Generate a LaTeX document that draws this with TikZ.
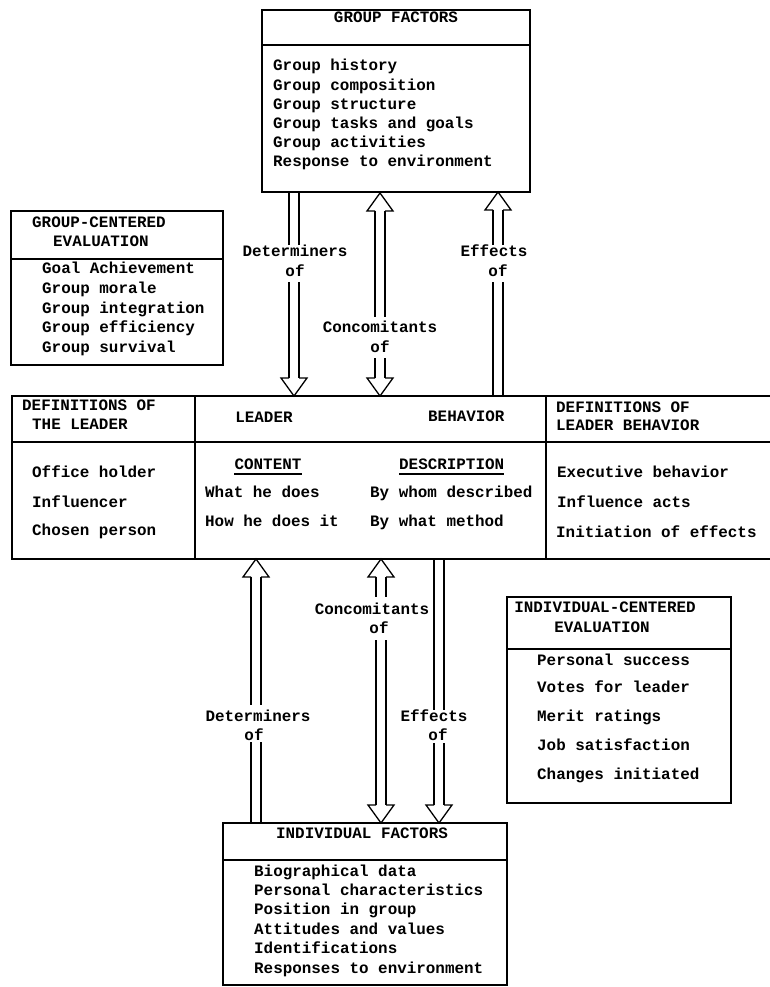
\documentclass[tikz,border=0pt]{standalone}
\usepackage{fontspec}
\setmainfont{Liberation Mono}
\newcommand{\dgfont}{\fontsize{15.9}{18}\selectfont\bfseries}
\newcommand{\arwShaft}[3]{\draw[arwline] ({#1-5},{#2}) -- ({#1-5},{#3}) ({#1+5},{#2}) -- ({#1+5},{#3});}
\newcommand{\arwDown}[2]{\draw[arwline] ({#1-5},{#2-18}) -- ({#1-13},{#2-18}) -- (#1,#2) -- ({#1+13},{#2-18}) -- ({#1+5},{#2-18});}
\newcommand{\arwUp}[2]{\draw[arwline] ({#1-5},{#2+18}) -- ({#1-13},{#2+18}) -- (#1,#2) -- ({#1+13},{#2+18}) -- ({#1+5},{#2+18});}
\begin{document}
\begin{tikzpicture}[x=1pt,y=-1pt,
  boxline/.style={line width=1.6pt},
  arwline/.style={line width=1.3pt},
  txt/.style={inner sep=0pt, anchor=base west, font=\dgfont},
  ctxt/.style={inner sep=0pt, anchor=base, font=\dgfont},
  uline/.style={line width=1.6pt}]
\useasboundingbox (0,0) rectangle (770,987);

% ---------- GROUP FACTORS ----------
\draw[boxline] (262,10) rectangle (530,192);
\draw[boxline] (262,45) -- (530,45);
\node[ctxt] (gfh) at (396,23) {GROUP FACTORS};
\node[txt] (gf1) at (273,71) {Group history};
\node[txt] (gf2) at (273,90.2) {Group composition};
\node[txt] (gf3) at (273,109.4) {Group structure};
\node[txt] (gf4) at (273,128.6) {Group tasks and goals};
\node[txt] (gf5) at (273,147.8) {Group activities};
\node[txt] (gf6) at (273,167) {Response to environment};

% ---------- GROUP-CENTERED EVALUATION ----------
\draw[boxline] (11,211) rectangle (223,365);
\draw[boxline] (11,259) -- (223,259);
\node[txt] (gch1) at (32,227) {GROUP-CENTERED};
\node[txt] (gch2) at (53,246) {EVALUATION};
\node[txt] (gc1) at (42,273) {Goal Achievement};
\node[txt] (gc2) at (42,293) {Group morale};
\node[txt] (gc3) at (42,313) {Group integration};
\node[txt] (gc4) at (42,332) {Group efficiency};
\node[txt] (gc5) at (42,352) {Group survival};

% ---------- MIDDLE BAND ----------
\draw[boxline] (770,396) -- (12,396) -- (12,559) -- (770,559);
\draw[boxline] (12,442) -- (770,442);
\draw[boxline] (195,396) -- (195,559);
\draw[boxline] (546,396) -- (546,559);
\node[txt] (dl1) at (22,410) {DEFINITIONS OF};
\node[txt] (dl2) at (32,429) {THE LEADER};
\node[ctxt] (lh) at (264,422) {LEADER};
\node[txt] (bh) at (428,421) {BEHAVIOR};
\node[txt] (db1) at (556,412) {DEFINITIONS OF};
\node[txt] (db2) at (556,430) {LEADER BEHAVIOR};
\node[txt] (ol1) at (32,477) {Office holder};
\node[txt] (ol2) at (32,507) {Influencer};
\node[txt] (ol3) at (32,535) {Chosen person};
\node[ctxt] (cont) at (268,469) {CONTENT};
\draw[uline] ([yshift=-5pt]cont.base west) -- ([yshift=-5pt]cont.base east);
\node[txt] (ct1) at (205,497) {What he does};
\node[txt] (ct2) at (205,526) {How he does it};
\node[txt] (desc) at (399,469) {DESCRIPTION};
\draw[uline] ([yshift=-5pt]desc.base west) -- ([yshift=-5pt]desc.base east);
\node[txt] (ds1) at (370,497) {By whom described};
\node[txt] (ds2) at (370,526) {By what method};
\node[txt] (lb1) at (557,477) {Executive behavior};
\node[txt] (lb2) at (557,507) {Influence acts};
\node[txt] (lb3) at (556,537) {Initiation of effects};

% ---------- INDIVIDUAL-CENTERED EVALUATION ----------
\draw[boxline] (507,597) rectangle (731,803);
\draw[boxline] (507,649) -- (731,649);
\node[ctxt] (ich1) at (605,612) {INDIVIDUAL-CENTERED};
\node[ctxt] (ich2) at (602,632) {EVALUATION};
\node[txt] (ic1) at (537,665) {Personal success};
\node[txt] (ic2) at (537,692) {Votes for leader};
\node[txt] (ic3) at (537,721) {Merit ratings};
\node[txt] (ic4) at (537,750) {Job satisfaction};
\node[txt] (ic5) at (537,779) {Changes initiated};

% ---------- INDIVIDUAL FACTORS ----------
\draw[boxline] (223,823) rectangle (507,985);
\draw[boxline] (223,860) -- (507,860);
\node[ctxt] (ifh) at (362,838) {INDIVIDUAL FACTORS};
\node[txt] (if1) at (254,876) {Biographical data};
\node[txt] (if2) at (254,895.4) {Personal characteristics};
\node[txt] (if3) at (254,914.8) {Position in group};
\node[txt] (if4) at (254,934.2) {Attitudes and values};
\node[txt] (if5) at (254,953.6) {Identifications};
\node[txt] (if6) at (254,973) {Responses to environment};

% ---------- ARROWS: top ----------
% Determiners of (down)
\arwShaft{294}{192}{245}
\arwShaft{294}{282}{378}
\arwDown{294}{396}
\node[ctxt] (td1) at (295,256) {Determiners};
\node[ctxt] (td2) at (295,276) {of};
% Concomitants of (both)
\arwUp{380}{193}
\arwShaft{380}{211}{317}
\arwShaft{380}{358}{378}
\arwDown{380}{396}
\node[ctxt] (tc1) at (380,332) {Concomitants};
\node[ctxt] (tc2) at (380,352) {of};
% Effects of (up)
\arwUp{498}{192}
\arwShaft{498}{210}{245}
\arwShaft{498}{282}{396}
\node[ctxt] (te1) at (494,256) {Effects};
\node[ctxt] (te2) at (498,276) {of};

% ---------- ARROWS: bottom ----------
% Determiners of (up)
\arwUp{256}{559}
\arwShaft{256}{577}{705}
\arwShaft{256}{742}{823}
\node[ctxt] (bd1) at (258,721) {Determiners};
\node[ctxt] (bd2) at (254,740) {of};
% Concomitants of (both)
\arwUp{381}{559}
\arwShaft{381}{577}{597}
\arwShaft{381}{640}{805}
\arwDown{381}{823}
\node[ctxt] (bc1) at (372,614) {Concomitants};
\node[ctxt] (bc2) at (379,633) {of};
% Effects of (down)
\arwShaft{439}{559}{710}
\arwShaft{439}{743}{805}
\arwDown{439}{823}
\node[ctxt] (be1) at (434,721) {Effects};
\node[ctxt] (be2) at (438,740) {of};
\end{tikzpicture}
\end{document}
